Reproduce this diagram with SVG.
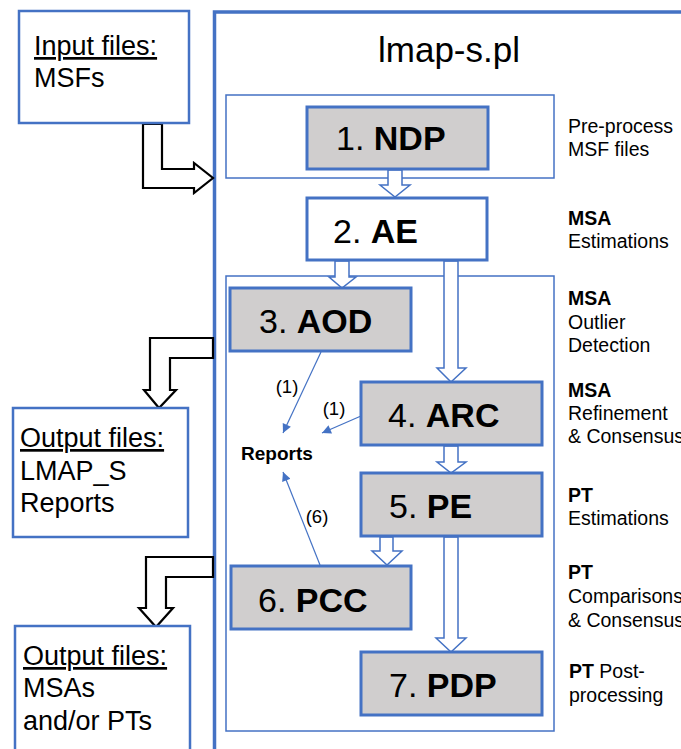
<svg xmlns="http://www.w3.org/2000/svg" width="681" height="749" viewBox="0 0 681 749">
<style>
.frame{fill:none;stroke:#4472C4;stroke-width:3.5}
.thin{fill:none;stroke:#4472C4;stroke-width:1.5}
.io{fill:#fff;stroke:#4472C4;stroke-width:2.5}
.gbox{fill:#D0CECE;stroke:#4472C4;stroke-width:3}
.wbox{fill:#fff;stroke:#4472C4;stroke-width:3}
.hollow{fill:#fff;stroke:#4472C4;stroke-width:1.5}
.blk{fill:#fff;stroke:#000;stroke-width:2.2}
.conn{stroke:#4472C4;stroke-width:1.2;fill:none;marker-end:url(#ah)}
text{font-family:"Liberation Sans",Arial,sans-serif;fill:#000}
.io-t{font-size:27px}
.step{font-size:34px}
.b{font-weight:bold}
.side{font-size:19.5px}
.lbl{font-size:18.5px}
</style>
<defs>
<marker id="ah" viewBox="0 0 10 10" refX="10" refY="5" markerWidth="11" markerHeight="9" markerUnits="userSpaceOnUse" orient="auto">
<path d="M0,0 L10,5 L0,10 z" fill="#4472C4"/>
</marker>
</defs>
<rect width="681" height="749" fill="#fff"/>

<g id="main-frame">
<rect class="frame" x="214.5" y="12" width="600" height="800"/>
<text x="378" y="62" font-size="35">lmap-s.pl</text>
</g>

<g id="ndp-container"><rect class="thin" x="226" y="95" width="328" height="83"/></g>
<g id="steps-container"><rect class="thin" x="226" y="276" width="328" height="455"/></g>

<g id="connectors">
<polygon class="blk" points="143,124 162,124 162,169 194,169 194,163 213,178 194,193 194,188 143,188"/>
<polygon class="blk" points="213,338 150,338 150,390 144,390 159,408 176,390 170,390 170,358 213,358"/>
<polygon class="blk" points="213,557 146,557 146,608 139,608 156,627 173,608 166,608 166,577 213,577"/>
<polygon class="hollow" points="388,170 388,185 380,185 395,197 410,185 402,185 402,170"/>
<polygon class="hollow" points="335,261 335,277 329,277 342,288 356,277 349,277 349,261"/>
<polygon class="hollow" points="444,261 444,368 437,368 451,382 466,368 458,368 458,261"/>
<polygon class="hollow" points="444,446 444,462 437,462 451,473 466,462 458,462 458,446"/>
<polygon class="hollow" points="380,537 380,551 372,551 387,565 402,551 393,551 393,537"/>
<polygon class="hollow" points="444,537 444,638 436,638 451,652 466,638 458,638 458,537"/>
<line class="conn" x1="321" y1="352" x2="283" y2="433"/>
<line class="conn" x1="361" y1="416" x2="322" y2="433"/>
<line class="conn" x1="320" y1="565" x2="283" y2="472"/>
<text class="lbl" x="287" y="393" text-anchor="middle">(1)</text>
<text class="lbl" x="334" y="415" text-anchor="middle">(1)</text>
<text class="lbl" x="317" y="523" text-anchor="middle">(6)</text>
</g>

<g id="input">
<rect class="io" x="19" y="11" width="170" height="112"/>
<text class="io-t" x="34" y="55" text-decoration="underline">Input files:</text>
<text class="io-t" x="34" y="87">MSFs</text>
</g>

<g id="output1">
<rect class="io" x="13" y="408" width="175" height="129"/>
<text class="io-t" x="20" y="447" text-decoration="underline">Output files:</text>
<text class="io-t" x="20" y="480">LMAP_S</text>
<text class="io-t" x="20" y="512">Reports</text>
</g>

<g id="output2">
<rect class="io" x="15" y="626" width="175" height="140"/>
<text class="io-t" x="23" y="665" text-decoration="underline">Output files:</text>
<text class="io-t" x="23" y="697">MSAs</text>
<text class="io-t" x="23" y="730">and/or PTs</text>
</g>

<g id="ndp">
<rect class="gbox" x="307" y="107" width="181" height="62"/>
<text class="step" x="336" y="150">1. <tspan class="b">NDP</tspan></text>
</g>
<g id="ae">
<rect class="wbox" x="307" y="198" width="180" height="62"/>
<text class="step" x="333" y="243">2. <tspan class="b">AE</tspan></text>
</g>
<g id="aod">
<rect class="gbox" x="230" y="288" width="181" height="63"/>
<text class="step" x="259" y="333">3. <tspan class="b">AOD</tspan></text>
</g>
<g id="arc">
<rect class="gbox" x="361" y="382" width="181" height="63"/>
<text class="step" x="388" y="427">4. <tspan class="b">ARC</tspan></text>
</g>
<g id="pe">
<rect class="gbox" x="361" y="473" width="181" height="63"/>
<text class="step" x="389" y="518">5. <tspan class="b">PE</tspan></text>
</g>
<g id="pcc">
<rect class="gbox" x="231" y="566" width="180" height="63"/>
<text class="step" x="258" y="612">6. <tspan class="b">PCC</tspan></text>
</g>
<g id="pdp">
<rect class="gbox" x="361" y="652" width="181" height="63"/>
<text class="step" x="389" y="697">7. <tspan class="b">PDP</tspan></text>
</g>
<g id="reports">
<text class="b" x="241" y="460" font-size="19">Reports</text>
</g>

<g id="side-notes">
<text class="side" x="568" y="133">Pre-process</text>
<text class="side" x="568" y="156">MSF files</text>
<text class="side b" x="568" y="225">MSA</text>
<text class="side" x="568" y="248">Estimations</text>
<text class="side b" x="568" y="305">MSA</text>
<text class="side" x="568" y="329">Outlier</text>
<text class="side" x="568" y="352">Detection</text>
<text class="side b" x="568" y="397">MSA</text>
<text class="side" x="568" y="420">Refinement</text>
<text class="side" x="568" y="443">&amp; Consensus</text>
<text class="side b" x="568" y="502">PT</text>
<text class="side" x="568" y="525">Estimations</text>
<text class="side b" x="568" y="579">PT</text>
<text class="side" x="568" y="603">Comparisons</text>
<text class="side" x="568" y="627">&amp; Consensus</text>
<text class="side" x="569" y="678"><tspan class="b">PT</tspan> Post-</text>
<text class="side" x="569" y="702">processing</text>
</g>
</svg>
